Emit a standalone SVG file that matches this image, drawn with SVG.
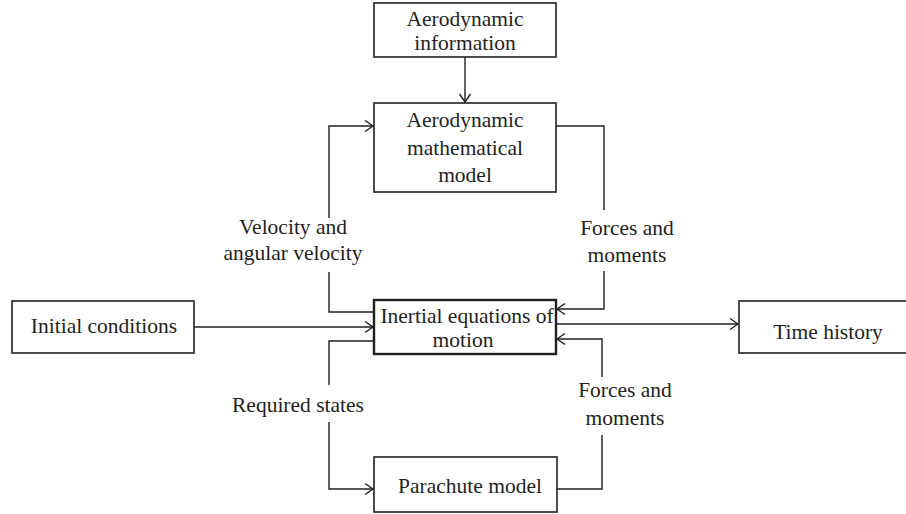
<svg xmlns="http://www.w3.org/2000/svg" width="906" height="514" viewBox="0 0 906 514">
<style>
.box{fill:#fff;stroke:#231f20;stroke-width:1.6}
.box2{fill:#fff;stroke:#231f20;stroke-width:2.4}
text{font-family:"Liberation Serif","Times New Roman",serif;font-size:21.5px;fill:#231f20;text-anchor:middle}
.c{fill:none;stroke:#231f20;stroke-width:1.4}
</style>
<defs>
<marker id="ah" markerUnits="userSpaceOnUse" markerWidth="14" markerHeight="14" refX="0" refY="0" viewBox="-10 -7 12 14" orient="auto" overflow="visible">
<path d="M-8,-5.5 L0,0 L-8,5.5" fill="none" stroke="#231f20" stroke-width="1.4"/>
</marker>
</defs>
<rect width="906" height="514" fill="#fff"/>
<g id="connectors">
<path class="c" d="M465,57 V102" marker-end="url(#ah)"/>
<path class="c" d="M374,312 H329 V272 M329,218 V126 H373" marker-end="url(#ah)"/>
<path class="c" d="M556,126 H604 V210 M604,271 V309 H557" marker-end="url(#ah)"/>
<path class="c" d="M194,327 H373" marker-end="url(#ah)"/>
<path class="c" d="M556,324 H738" marker-end="url(#ah)"/>
<path class="c" d="M374,341 H329 V385 M329,422 V489 H373" marker-end="url(#ah)"/>
<path class="c" d="M557,489 H602 V435 M602,377 V339 H557" marker-end="url(#ah)"/>
<text x="293" y="234">Velocity and</text>
<text x="293" y="260">angular velocity</text>
<text x="627" y="235">Forces and</text>
<text x="627" y="262">moments</text>
<text x="298" y="412">Required states</text>
<text x="625" y="397">Forces and</text>
<text x="625" y="425">moments</text>
</g>
<g id="aero-info">
<rect class="box" x="374" y="3" width="182" height="54"/>
<text x="465" y="26">Aerodynamic</text>
<text x="465" y="50">information</text>
</g>
<g id="aero-model">
<rect class="box" x="374" y="103" width="182" height="89"/>
<text x="465" y="127">Aerodynamic</text>
<text x="465" y="155">mathematical</text>
<text x="465" y="182">model</text>
</g>
<g id="initial">
<rect class="box" x="12" y="301" width="182" height="52"/>
<text x="104" y="333">Initial conditions</text>
</g>
<g id="inertial">
<rect class="box2" x="374" y="300" width="182" height="54"/>
<text x="467" y="323">Inertial equations of</text>
<text x="463" y="347">motion</text>
</g>
<g id="time-history">
<rect class="box" x="739" y="301" width="180" height="52"/>
<text x="828" y="339">Time history</text>
</g>
<g id="parachute">
<rect class="box" x="374" y="457" width="183" height="55"/>
<text x="470" y="493">Parachute model</text>
</g>
</svg>
